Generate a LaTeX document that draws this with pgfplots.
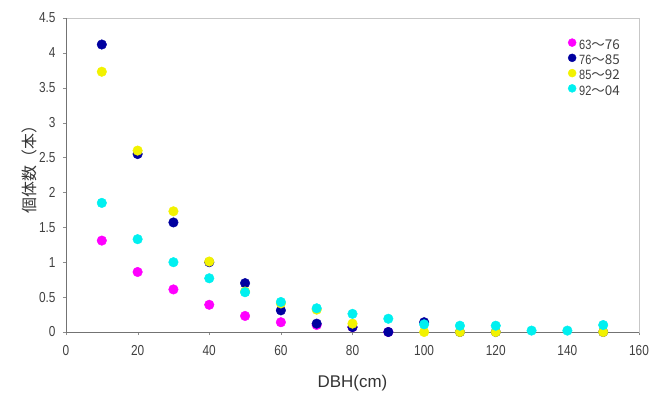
\documentclass[border=0pt]{standalone}
\usepackage{fontspec}
\setmainfont{Liberation Sans}
\newfontfamily\narrowfont[FakeStretch=0.82]{Liberation Sans}
\newfontfamily\cjk{Noto Sans CJK JP}
\usepackage{pgfplots}
\pgfplotsset{compat=1.18}
\definecolor{cMag}{HTML}{FF00FF}
\definecolor{cBlue}{HTML}{0000A0}
\definecolor{cYel}{HTML}{F2F200}
\definecolor{cCyan}{HTML}{00F0F0}
\begin{document}
\begin{tikzpicture}
\path[use as bounding box] (-66bp,-73bp) rectangle (583bp,332bp);
\begin{axis}[
  at={(0,0)}, anchor=south west,
  scale only axis, width=573bp, height=314bp,
  xmin=0, xmax=160, ymin=0, ymax=4.5,
  xtick={0,20,40,60,80,100,120,140,160},
  ytick={0,0.5,1,1.5,2,2.5,3,3.5,4,4.5},
  xtick pos=bottom, ytick pos=left,
  tick align=outside, major tick length=3bp,
  major tick style={black!45},
  axis line style={draw=black!22, line width=0.8bp},
  clip=false,
  /pgf/number format/assume math mode=true,
  tick label style={font=\narrowfont\fontsize{14.5}{14.5}\selectfont, text=black!75},
  xticklabel style={yshift=-7bp},
  yticklabel style={xshift=-4bp},
  xlabel={DBH(cm)},
  xlabel style={at={(axis description cs:0.5,-0.162)}, anchor=center, font=\fontsize{17}{17}\selectfont, text=black!80},
  ylabel={\cjk 個体数（本）},
  ylabel style={at={(axis description cs:-0.063,0.53)}, anchor=center, rotate=0, font=\fontsize{16}{16}\selectfont, text=black!80},
  legend image code/.code={\draw[#1, mark size=4bp] plot coordinates {(0bp,4bp)};},
  legend style={at={(axis description cs:0.876,0.935)}, anchor=north west, draw=none, fill=none,
    inner sep=0pt, row sep=0pt, column sep=3bp,
    font=\narrowfont\fontsize{13.5}{13.5}\selectfont, text=black!75,
    nodes={inner sep=0pt, text height=10bp, text depth=4.5bp}},
  legend cell align=left,
]
\draw[black!55, line width=0.8bp] (rel axis cs:0,1) -- (rel axis cs:0,0) -- (rel axis cs:1,0);
\addplot[only marks, mark=*, mark size=4.8bp, mark options={fill=cMag, draw=cMag}] coordinates {
(10,1.31)(20,0.86)(30,0.61)(40,0.39)(50,0.23)(60,0.14)(70,0.10)(80,0.07)(90,0)};
\addlegendentry{63\cjk{～}76}
\addplot[only marks, mark=*, mark size=4.8bp, mark options={fill=cBlue, draw=cBlue}] coordinates {
(10,4.12)(20,2.55)(30,1.57)(40,1.0)(50,0.70)(60,0.31)(70,0.12)(80,0.07)(90,0)(100,0.14)(110,0)(120,0)(150,0)};
\addlegendentry{76\cjk{～}85}
\addplot[only marks, mark=*, mark size=4.8bp, mark options={fill=cYel, draw=cYel}] coordinates {
(10,3.73)(20,2.60)(30,1.73)(40,1.01)(50,0.58)(60,0.41)(70,0.32)(80,0.12)(100,0)(110,0)(120,0)(150,0)};
\addlegendentry{85\cjk{～}92}
\addplot[only marks, mark=*, mark size=4.8bp, mark options={fill=cCyan, draw=cCyan}] coordinates {
(10,1.85)(20,1.33)(30,1.00)(40,0.77)(50,0.57)(60,0.43)(70,0.34)(80,0.26)(90,0.19)(100,0.11)(110,0.09)(120,0.09)(130,0.02)(140,0.02)(150,0.10)};
\addlegendentry{92\cjk{～}04}
\end{axis}
\end{tikzpicture}
\end{document}
